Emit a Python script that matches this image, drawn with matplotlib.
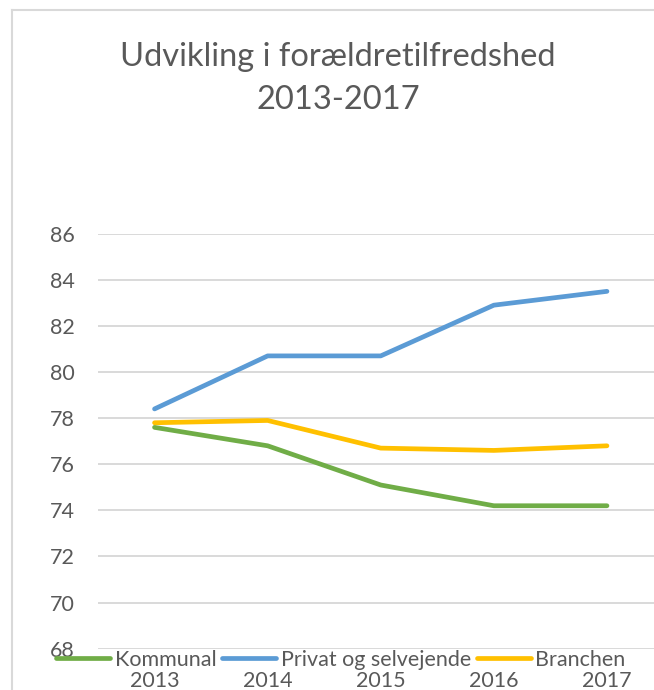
import matplotlib
matplotlib.use("Agg")
import matplotlib.pyplot as plt
from matplotlib.lines import Line2D

plt.rcParams['font.family'] = ['Lato', 'DejaVu Sans']

years = ["2013", "2014", "2015", "2016", "2017"]
kommunal = [77.6, 76.8, 75.1, 74.2, 74.2]
privat = [78.4, 80.7, 80.7, 82.9, 83.5]
branchen = [77.8, 77.9, 76.7, 76.6, 76.8]
series_names = ["Kommunal", "Privat og selvejende", "Branchen"]
colors = ["#70AD47", "#5B9BD5", "#FFC000"]
yticks = [68, 70, 72, 74, 76, 78, 80, 82, 84, 86]

W, H = 654, 690
fig = plt.figure(figsize=(W / 100, H / 100), dpi=100)

ax = fig.add_axes([98 / W, 1 - 648.7 / H, 565.5 / W, (648.7 - 233.7) / H])
x = list(range(len(years)))
for vals, c in zip([kommunal, privat, branchen], colors):
    ax.plot(x, vals, color=c, lw=3.4, solid_capstyle='round', solid_joinstyle='round', zorder=3)

ax.set_ylim(68, 86)
ax.set_yticks(yticks)
ax.set_xlim(-0.5, 4.5)
ax.set_xticks(x)
ax.set_xticklabels(years)
ax.grid(axis='y', color='#d9d9d9', lw=1.4)
ax.set_axisbelow(True)
for s in ax.spines.values():
    s.set_visible(False)
ax.tick_params(axis='both', length=0, labelsize=15.5, colors='#595959')
ax.tick_params(axis='y', pad=16.5)
ax.tick_params(axis='x', pad=16)

fig.text(338 / W, 1 - 57 / H, "Udvikling i forældretilfredshed", ha='center', va='center',
         fontsize=23.5, color='#595959')
fig.text(338 / W, 1 - 100 / H, "2013-2017", ha='center', va='center',
         fontsize=23.5, color='#595959')

handles = [Line2D([0], [0], color=c, lw=3.4, solid_capstyle='round') for c in colors]
fig.legend(handles, series_names, loc='center', bbox_to_anchor=(341 / W, 1 - 660 / H),
           ncol=3, frameon=False, fontsize=15.5, handlelength=2.5, handletextpad=0.22,
           columnspacing=0.27, labelcolor='#595959', borderpad=0, borderaxespad=0)

# chart border (light gray frame)
fig.add_artist(Line2D([12 / W, 12 / W], [0, 1 - 10 / H], color='#d9d9d9', lw=1.5, transform=fig.transFigure))
fig.add_artist(Line2D([12 / W, 1], [1 - 10 / H, 1 - 10 / H], color='#d9d9d9', lw=1.5, transform=fig.transFigure))

fig.savefig("out.png", dpi=100)
